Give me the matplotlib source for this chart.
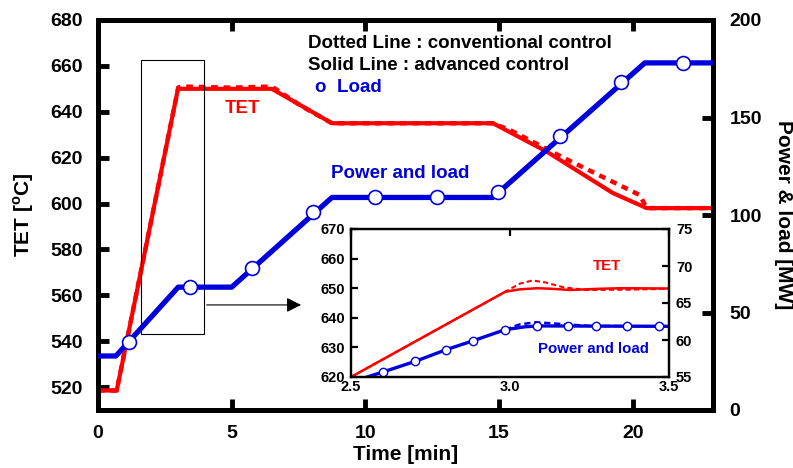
import matplotlib
matplotlib.use("Agg")
import matplotlib.pyplot as plt
from matplotlib.patches import Rectangle

plt.rcParams['font.family'] = ['Liberation Sans', 'DejaVu Sans']
plt.rcParams['font.weight'] = 'bold'
plt.rcParams['mathtext.fontset'] = 'custom'
plt.rcParams['mathtext.rm'] = 'Liberation Sans:bold'
plt.rcParams['mathtext.bf'] = 'Liberation Sans:bold'

RED = '#ff0000'
BLUE = '#0000dd'

# ---- main chart data ----
tet_adv_time = [0, 0.7, 3.0, 3.07, 6.5, 8.75, 14.77, 16.8, 19.25, 20.52, 23]
tet_adv = [518.5, 518.5, 650.5, 650, 650, 635, 635, 622.5, 604.6, 598, 598]

tet_conv_time = [0, 0.7, 3.0, 3.1, 5.0, 6.5, 7.6, 8.75, 14.77, 15.5, 17.4, 20.26, 20.52, 23]
tet_conv = [518.5, 518.5, 650.5, 651, 650.5, 651, 642.5, 635, 635, 631.5, 620, 603.7, 598, 598]

power_time = [0, 0.67, 3.0, 5.0, 8.75, 14.77, 20.45, 23]
power = [27.7, 27.7, 63, 63, 109, 109, 178, 178]

load_time = [1.16, 3.44, 5.77, 8.05, 10.36, 12.66, 14.95, 17.27, 19.55, 21.87]
load = [35, 63, 73, 101.5, 109, 109, 112, 140.5, 168, 178]

# ---- inset data (2.5 - 3.5 min) ----
in_tet_adv_time = [2.5, 2.985, 3.03, 3.085, 3.13, 3.19, 3.28, 3.35, 3.5]
in_tet_adv = [620, 648.8, 649.6, 650.0, 649.8, 649.4, 649.8, 650, 649.9]
in_tet_conv_time = [2.5, 2.985, 3.03, 3.07, 3.11, 3.168, 3.24, 3.37, 3.5]
in_tet_conv = [620, 648.8, 651.5, 652.6, 652.0, 650.3, 649.4, 649.5, 649.8]

in_pow_adv_time = [2.5, 2.602, 2.701, 2.800, 2.884, 2.985, 3.05, 3.1, 3.5]
in_pow_adv = [54.3, 55.7, 57.1, 58.7, 59.9, 61.4, 61.8, 61.9, 61.85]
in_pow_conv_time = [2.985, 3.03, 3.08, 3.15, 3.25, 3.5]
in_pow_conv = [61.4, 62.1, 62.4, 62.2, 61.9, 61.85]

in_load_time = [2.602, 2.701, 2.800, 2.884, 2.985, 3.084, 3.183, 3.269, 3.369, 3.468]
in_load = [55.7, 57.1, 58.7, 59.9, 61.4, 61.85, 61.85, 61.85, 61.85, 61.85]

x_ticks = [0, 5, 10, 15, 20]
tet_ticks = [520, 540, 560, 580, 600, 620, 640, 660, 680]
pow_ticks = [0, 50, 100, 150, 200]
in_x_ticks = [2.5, 3.0, 3.5]
in_x_labels = ['2.5', '3.0', '3.5']
in_tet_ticks = [620, 630, 640, 650, 660, 670]
in_pow_ticks = [55, 60, 65, 70, 75]

W, H = 793, 468
fig = plt.figure(figsize=(W / 100, H / 100), dpi=100)

ax = fig.add_axes([98 / W, 1 - 410 / H, (713 - 98) / W, 390 / H])
ax2 = ax.twinx()

SP = 3.5
for a in (ax, ax2):
    for s in a.spines.values():
        s.set_linewidth(SP)

ax.set_xlim(0, 23)
ax.set_ylim(510, 680)
ax2.set_ylim(0, 200)
ax.set_xticks(x_ticks)
ax.set_yticks(tet_ticks)
ax2.set_yticks(pow_ticks)
ax.tick_params(axis='x', direction='in', top=True, length=8, width=SP, labelsize=14, pad=11)
ax.tick_params(axis='y', direction='in', length=8, width=SP, labelsize=14, pad=11)
ax2.tick_params(axis='y', direction='in', length=8, width=SP, labelsize=14, pad=12)

ax.plot(tet_conv_time, tet_conv, color=RED, lw=3.2, ls=(0, (1.5, 1.3)), zorder=2)
ax.plot(tet_adv_time, tet_adv, color=RED, lw=3, zorder=3)
ax2.plot(power_time, power, color=BLUE, lw=3.8, zorder=3)
ax2.plot(load_time, load, ls='none', marker='o', ms=10, mfc='white', mec=BLUE, mew=1.2, zorder=4)

ax.set_xlabel('Time [min]', fontsize=15, fontweight='bold', labelpad=2)
ax.set_ylabel(r'TET [$^{\mathbf{o}}$C]', fontsize=15, fontweight='bold', labelpad=10)
ax2.set_ylabel('Power & load [MW]', fontsize=15, fontweight='bold', rotation=270,
               labelpad=22)

# zoom box and arrow
ax.add_patch(Rectangle((1.61, 543.1), 2.35, 119.5, fill=False, lw=0.8, ec='black', zorder=5))
ax.annotate('', xy=(7.7, 555.8), xytext=(3.96, 555.8),
            arrowprops=dict(arrowstyle='-|>', lw=0.8, color='black', mutation_scale=22),
            zorder=5)

# annotations
def ftext(x, y, s, **kw):
    fig.text(x / W, 1 - y / H, s, va='center', fontweight='bold', **kw)

ftext(308, 44, 'Dotted Line : conventional control', fontsize=13.5, color='black')
ftext(308, 66, 'Solid Line : advanced control', fontsize=13.5, color='black')
ftext(315, 88, 'o  Load', fontsize=13.5, color=BLUE)
ftext(225, 108, 'TET', fontsize=13.5, color=RED)
ftext(331, 173, 'Power and load', fontsize=13.5, color=BLUE)

# ---- inset ----
ia = fig.add_axes([351 / W, 1 - 377 / H, (669 - 351) / W, (377 - 229) / H])
ia.set_facecolor('white')
ia2 = ia.twinx()
for a in (ia, ia2):
    for s in a.spines.values():
        s.set_linewidth(1.6)
ia.set_xlim(2.5, 3.5)
ia.set_ylim(620, 670)
ia2.set_ylim(55, 75)
ia.set_xticks(in_x_ticks)
ia.set_xticklabels(in_x_labels)
ia.set_yticks(in_tet_ticks)
ia2.set_yticks(in_pow_ticks)
ia.tick_params(axis='x', direction='in', top=True, bottom=False, length=5, width=1.6,
               labelsize=10.5, pad=2)
ia.tick_params(axis='y', direction='in', length=5, width=1.6, labelsize=10.5, pad=4)
ia2.tick_params(axis='y', direction='in', length=5, width=1.6, labelsize=10.5, pad=5)

ia.plot(in_tet_conv_time, in_tet_conv, color=RED, lw=1.5, ls=(0, (2.5, 1.5)))
ia.plot(in_tet_adv_time, in_tet_adv, color=RED, lw=1.8)
ia2.plot(in_pow_conv_time, in_pow_conv, color=BLUE, lw=1.8, ls=(0, (2.5, 1.5)))
ia2.plot(in_pow_adv_time, in_pow_adv, color=BLUE, lw=2.4)
ia2.plot(in_load_time, in_load, ls='none', marker='o', ms=6, mfc='white', mec=BLUE, mew=1.0)

ftext(593, 266, 'TET', fontsize=10.8, color=RED)
ftext(538, 349, 'Power and load', fontsize=10.8, color=BLUE)

fig.savefig('out.png', dpi=100)
